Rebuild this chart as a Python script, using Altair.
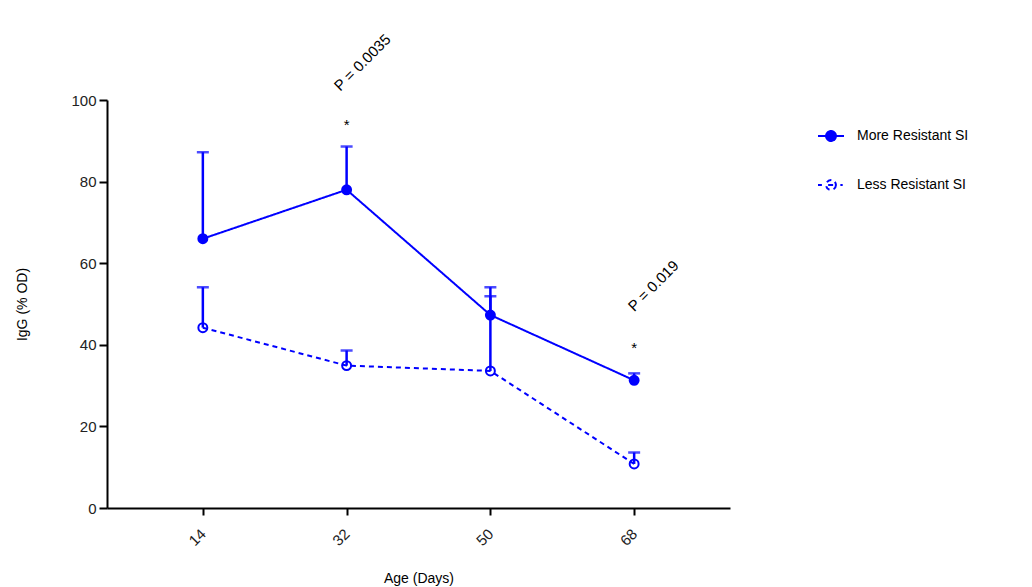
import altair as alt
import pandas as pd

# Mean IgG (% OD) per age, with the upper end of each one-sided error bar
ages = [14, 32, 50, 68]
more_mean = [66.0, 78.0, 47.3, 31.3]
more_upper = [87.2, 88.6, 54.1, 33.0]
less_mean = [44.2, 34.9, 33.6, 10.8]
less_upper = [54.1, 38.6, 51.9, 13.6]
series_names = ["More Resistant SI", "Less Resistant SI"]

# Significance markers
star_x = [32, 68]
star_y = [92.7, 38.0]
p_labels = ["P = 0.0035", "P = 0.019"]
p_x = [31.2, 68.0]
p_y = [102.0, 48.0]

BLUE = "#0000ff"
FONT = "Liberation Sans"

# Legend glyphs: a line with a circle on it (solid/filled vs dashed/hollow)
CIRCLE = "M0.38,0A0.38,0.38,0,1,1,-0.38,0A0.38,0.38,0,1,1,0.38,0"
GLYPH_SOLID = "M-1,0H1" + CIRCLE
GLYPH_DASHED = "M-1,0H-0.7M-0.22,0H0.22M0.72,0H0.9" + CIRCLE

rows = []
for name, means, uppers in [
    (series_names[0], more_mean, more_upper),
    (series_names[1], less_mean, less_upper),
]:
    for a, m, u in zip(ages, means, uppers):
        rows.append({"age": a, "igg": m, "upper": u, "series": name})
df = pd.DataFrame(rows)

stars = pd.DataFrame({"age": star_x, "igg": star_y, "txt": ["*", "*"]})
pvals = pd.DataFrame({"age": p_x, "igg": p_y, "txt": p_labels})

x_scale = alt.Scale(domain=[2, 80], nice=False, zero=False)
y_scale = alt.Scale(domain=[0, 100], nice=False)

x_axis = alt.Axis(
    values=ages, title="Age (Days)", labelAngle=315, labelAlign="right",
    labelBaseline="middle", labelPadding=16, tickSize=7, grid=False,
    titleX=311.5, titleY=70, titleBaseline="middle",
)
y_axis = alt.Axis(
    values=[0, 20, 40, 60, 80, 100], title="IgG (% OD)", tickSize=8,
    labelPadding=3, grid=False, titleX=-85, titleY=204,
    titleBaseline="middle", titleAngle=270,
)

X = alt.X("age:Q", scale=x_scale, axis=x_axis)
Y = alt.Y("igg:Q", scale=y_scale, axis=y_axis)

color_scale = alt.Scale(domain=series_names, range=[BLUE, BLUE])
dash_scale = alt.Scale(domain=series_names, range=[[1, 0], [5, 4]])
fill_scale = alt.Scale(domain=series_names, range=[BLUE, "transparent"])
shape_scale = alt.Scale(domain=series_names, range=[GLYPH_SOLID, GLYPH_DASHED])

leg = alt.Legend(title=None)
color_enc = alt.Color("series:N", scale=color_scale, sort=series_names, legend=leg)
fill_enc = alt.Fill("series:N", scale=fill_scale, sort=series_names, legend=leg)

base = alt.Chart(df)

err_rule = base.mark_rule(strokeWidth=2.5, color=BLUE).encode(
    x="age:Q", y="igg:Q", y2="upper:Q", detail="series:N"
)
err_cap = base.mark_tick(
    orient="horizontal", size=12, thickness=2.5, color=BLUE
).encode(x="age:Q", y="upper:Q")

lines = base.mark_line(strokeWidth=2).encode(
    x=X, y=Y, color=color_enc,
    strokeDash=alt.StrokeDash("series:N", scale=dash_scale, sort=series_names,
                              legend=None),
)
points = base.mark_point(size=80, strokeWidth=2, opacity=1).encode(
    x="age:Q", y="igg:Q", color=color_enc, fill=fill_enc,
)

# Carries only the legend glyph shapes; no rows are drawn
legend_glyphs = base.mark_point(strokeWidth=2).encode(
    x="age:Q", y="igg:Q", color=color_enc, fill=fill_enc,
    shape=alt.Shape("series:N", scale=shape_scale, sort=series_names, legend=leg),
).transform_filter("false")

star_text = alt.Chart(stars).mark_text(
    font=FONT, fontSize=15, baseline="alphabetic", align="center", color="black"
).encode(x="age:Q", y="igg:Q", text="txt:N")

p_text = alt.Chart(pvals).mark_text(
    font=FONT, fontSize=15, baseline="alphabetic", align="left", angle=315,
    color="black",
).encode(x="age:Q", y="igg:Q", text="txt:N")

chart = (
    alt.layer(err_rule, err_cap, lines, points, legend_glyphs, star_text, p_text)
    .properties(
        width=623, height=408,
        autosize=alt.AutoSizeParams(type="none"),
        padding={"left": 107, "top": 100, "right": 302, "bottom": 79},
        background="white",
    )
    .configure_view(stroke=None)
    .configure_axis(
        domainColor="black", domainWidth=2, tickColor="black", tickWidth=2,
        labelFont=FONT, labelFontSize=15, labelColor="#222222",
        titleFont=FONT, titleFontSize=14, titleFontWeight="normal",
        titleColor="black",
    )
    .configure_legend(
        orient="none", legendX=710, legendY=22, labelFont=FONT,
        labelFontSize=14, labelColor="black", rowPadding=26,
        symbolSize=676, symbolStrokeWidth=2, symbolOpacity=1, labelOffset=12,
    )
)

chart.save("out.html", embed_options={"renderer": "svg", "actions": False})
